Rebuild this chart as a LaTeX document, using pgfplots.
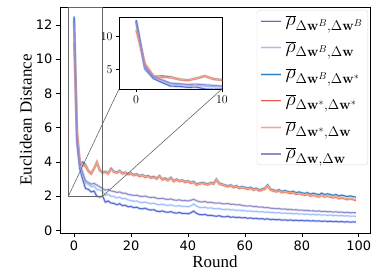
\RequirePackage{fix-cm}
\documentclass[border=0pt]{standalone}
\usepackage[no-math]{fontspec}
\setmainfont{Liberation Serif}
\newfontfamily\dejavu{DejaVu Sans}
\usepackage{pgfplots}
\usepackage{pgfplotstable}
\pgfplotsset{compat=1.18}
\definecolor{cbb}{RGB}{85,105,215}
\definecolor{cbw}{RGB}{160,192,250}
\definecolor{cbs}{RGB}{45,130,200}
\definecolor{css}{RGB}{228,90,72}
\definecolor{csw}{RGB}{247,165,135}
\definecolor{cww}{RGB}{145,140,205}
\pgfplotstableread{
x bb bw bs ss sw ww
0 12.4 12.3 12.5 11.0 11.1 12.2
1 5.1 5.3 5.6 5.9 6.0 5.5
2 3.6 3.8 3.85 4.0 4.05 3.9
3 3.0 3.3 4.0 3.8 3.85 3.4
4 2.45 2.75 3.85 3.75 3.8 2.9
5 2.4 2.7 3.5 3.45 3.5 2.8
6 2.25 2.55 3.35 3.3 3.35 2.7
7 2.3 2.6 3.62 3.6 3.62 2.75
8 2.0 2.4 3.95 4.0 3.98 2.65
9 1.95 2.35 3.55 3.5 3.55 2.55
10 2.0 2.3 3.4 3.35 3.38 2.45
11 1.65 2.05 3.45 3.4 3.43 2.35
12 1.72 2.12 3.36 3.3 3.33 2.4
13 1.6 2.0 3.62 3.6 3.58 2.3
14 1.58 1.98 3.46 3.4 3.44 2.28
15 1.5 1.9 3.4 3.35 3.37 2.22
16 1.56 1.95 3.5 3.45 3.47 2.25
17 1.45 1.85 3.36 3.3 3.33 2.17
18 1.47 1.87 3.4 3.35 3.37 2.18
19 1.38 1.78 3.31 3.25 3.28 2.1
20 1.4 1.75 3.36 3.3 3.33 2.08
21 1.33 1.7 3.26 3.2 3.22 2.04
22 1.36 1.72 3.3 3.25 3.27 2.06
23 1.28 1.65 3.21 3.15 3.18 2.0
24 1.26 1.63 3.25 3.2 3.22 1.98
25 1.3 1.66 3.16 3.1 3.13 2.01
26 1.22 1.6 3.2 3.15 3.17 1.95
27 1.19 1.57 3.11 3.05 3.08 1.92
28 1.21 1.59 3.15 3.1 3.12 1.94
29 1.13 1.52 3.06 3.0 3.03 1.88
30 1.1 1.5 3.2 3.15 3.17 1.86
31 1.14 1.53 3.01 2.95 2.98 1.88
32 1.08 1.48 3.06 3.0 3.02 1.83
33 1.06 1.46 2.96 2.9 2.93 1.81
34 1.1 1.5 3.1 3.05 3.07 1.84
35 1.03 1.44 2.91 2.85 2.88 1.78
36 1.01 1.42 3.0 2.95 2.97 1.76
37 1.05 1.45 2.91 2.85 2.88 1.79
38 0.99 1.4 2.95 2.9 2.92 1.74
39 1.0 1.41 2.86 2.8 2.83 1.75
40 0.97 1.38 2.9 2.85 2.87 1.72
41 1.03 1.43 2.81 2.75 2.78 1.76
42 1.13 1.55 2.86 2.8 2.82 1.82
43 1.0 1.42 2.71 2.65 2.68 1.74
44 0.93 1.35 2.76 2.7 2.72 1.68
45 0.91 1.33 2.8 2.75 2.77 1.66
46 0.94 1.36 2.76 2.7 2.72 1.69
47 0.87 1.3 2.71 2.65 2.68 1.63
48 0.89 1.32 2.8 2.75 2.77 1.65
49 0.85 1.28 2.76 2.7 2.72 1.61
50 0.83 1.26 3.0 2.95 2.97 1.59
51 0.86 1.28 2.76 2.7 2.72 1.61
52 0.8 1.23 2.71 2.65 2.68 1.56
53 0.79 1.22 2.66 2.6 2.63 1.55
54 0.83 1.25 2.61 2.55 2.58 1.58
55 0.77 1.19 2.66 2.6 2.62 1.52
56 0.79 1.21 2.56 2.5 2.53 1.54
57 0.75 1.17 2.61 2.55 2.57 1.49
58 0.77 1.19 2.52 2.45 2.48 1.51
59 0.73 1.15 2.56 2.5 2.52 1.46
60 0.75 1.16 2.52 2.45 2.48 1.44
61 0.71 1.12 2.47 2.4 2.43 1.42
62 0.73 1.14 2.52 2.45 2.47 1.44
63 0.69 1.1 2.42 2.35 2.38 1.39
64 0.71 1.12 2.47 2.4 2.42 1.4
65 0.67 1.08 2.37 2.3 2.33 1.36
66 0.69 1.1 2.42 2.35 2.37 1.37
67 0.65 1.06 2.47 2.4 2.43 1.33
68 0.68 1.08 2.66 2.6 2.62 1.34
69 0.63 1.04 2.42 2.35 2.38 1.3
70 0.65 1.05 2.37 2.3 2.33 1.29
71 0.62 1.02 2.32 2.25 2.28 1.27
72 0.64 1.04 2.38 2.3 2.32 1.28
73 0.6 1.0 2.28 2.2 2.23 1.24
74 0.62 1.02 2.33 2.25 2.27 1.26
75 0.59 0.99 2.28 2.2 2.23 1.22
76 0.61 1.0 2.24 2.15 2.18 1.23
77 0.58 0.97 2.29 2.2 2.22 1.2
78 0.6 0.99 2.2 2.1 2.13 1.21
79 0.57 0.95 2.25 2.15 2.17 1.18
80 0.59 0.97 2.2 2.1 2.13 1.19
81 0.56 0.94 2.16 2.05 2.08 1.16
82 0.58 0.96 2.21 2.1 2.12 1.17
83 0.55 0.92 2.12 2.0 2.03 1.14
84 0.57 0.94 2.17 2.05 2.07 1.15
85 0.54 0.91 2.13 2.0 2.03 1.12
86 0.56 0.93 2.08 1.95 1.98 1.14
87 0.53 0.89 2.18 2.05 2.07 1.1
88 0.55 0.91 2.09 1.95 1.98 1.12
89 0.52 0.88 2.14 2.0 2.02 1.09
90 0.54 0.9 2.1 1.95 1.98 1.1
91 0.51 0.87 2.05 1.9 1.93 1.07
92 0.53 0.88 2.1 1.95 1.97 1.09
93 0.5 0.85 2.01 1.85 1.88 1.06
94 0.52 0.87 2.06 1.9 1.92 1.07
95 0.49 0.84 2.02 1.85 1.88 1.04
96 0.51 0.86 1.97 1.8 1.83 1.06
97 0.48 0.83 2.02 1.85 1.87 1.03
98 0.5 0.84 1.97 1.8 1.83 1.04
99 0.49 0.82 1.95 1.75 1.8 1.03
}\datatable
\pgfplotsset{
  ser/.style={color=#1, line width=1.1bp, preaction={draw=#1, line width=2.6bp, opacity=0.25}},
}
\begin{document}
\begin{tikzpicture}
\useasboundingbox (-60bp,-45bp) rectangle (332bp,233bp);
\begin{axis}[name=main, scale only axis, width=310bp, height=226bp,
  at={(0,0)}, anchor=south west,
  xmin=-4.95, xmax=103.95, ymin=-0.15, ymax=13.05,
  xtick={0,20,...,100}, ytick={0,2,...,12},
  tick align=outside, xtick pos=bottom, ytick pos=left,
  major tick length=4bp, tick style={black, line width=0.6pt},
  axis line style={line width=0.7pt},
  tick label style={font=\dejavu\fontsize{13}{13}\selectfont},
  /pgf/number format/assume math mode=true,
  xlabel={Round}, ylabel={Euclidean Distance},
  label style={font=\fontsize{17}{17}\selectfont},
  xlabel style={at={(axis description cs:0.5,-0.128)}, anchor=center},
  ylabel style={at={(axis description cs:-0.11,0.5)}, anchor=center},
  legend cell align=left,
  legend image code/.code={\draw[#1, line width=1.2bp] (0bp,0bp) -- (20bp,0bp);},
  legend style={at={(0.994,0.987)}, anchor=north east, draw=black!15, rounded corners=3bp,
    fill=white, font=\fontsize{20}{20}\selectfont, row sep=10.5bp, inner sep=3bp,
    /tikz/every odd column/.append style={column sep=1bp}},
]
\addplot[ser=cbb] table[x=x, y=bb] {\datatable};
\addlegendentry{$\overline{\rho}_{\Delta\mathbf{w}^B,\Delta\mathbf{w}^B}$}
\addplot[ser=cbw] table[x=x, y=bw] {\datatable};
\addlegendentry{$\overline{\rho}_{\Delta\mathbf{w}^B,\Delta\mathbf{w}}$}
\addplot[ser=cbs] table[x=x, y=bs] {\datatable};
\addlegendentry{$\overline{\rho}_{\Delta\mathbf{w}^B,\Delta\mathbf{w}^*}$}
\addplot[ser=css] table[x=x, y=ss] {\datatable};
\addlegendentry{$\overline{\rho}_{\Delta\mathbf{w}^*,\Delta\mathbf{w}^*}$}
\addplot[ser=csw] table[x=x, y=sw] {\datatable};
\addlegendentry{$\overline{\rho}_{\Delta\mathbf{w}^*,\Delta\mathbf{w}}$}
\addplot[ser=cww] table[x=x, y=ww] {\datatable};
\addlegendentry{$\overline{\rho}_{\Delta\mathbf{w},\Delta\mathbf{w}}$}
\draw[black!60, line width=0.6pt] (axis cs:-2,2) rectangle (axis cs:10,13.05);
\coordinate (rA) at (axis cs:-2,2);
\coordinate (rB) at (axis cs:10,2);
\end{axis}
\begin{axis}[name=inset, scale only axis, width=103bp, height=72bp,
  at={(59bp,144bp)}, anchor=south west,
  xmin=-2, xmax=10, ymin=2, ymax=13,
  xtick={0,10}, ytick={5,10},
  tick align=outside, xtick pos=bottom, ytick pos=left,
  major tick length=3bp, tick style={black, line width=0.5pt},
  axis line style={line width=0.5pt},
  axis background/.style={fill=white},
  tick label style={font=\fontsize{12}{12}\selectfont},
]
\addplot[ser=cbb] table[x=x, y=bb] {\datatable};
\addplot[ser=cbw] table[x=x, y=bw] {\datatable};
\addplot[ser=cbs] table[x=x, y=bs] {\datatable};
\addplot[ser=css] table[x=x, y=ss] {\datatable};
\addplot[ser=csw] table[x=x, y=sw] {\datatable};
\addplot[ser=cww] table[x=x, y=ww] {\datatable};
\end{axis}
\draw[black!60, line width=0.6pt] (rA) -- (inset.south west);
\draw[black!60, line width=0.6pt] (rB) -- (inset.south east);
\end{tikzpicture}
\end{document}
